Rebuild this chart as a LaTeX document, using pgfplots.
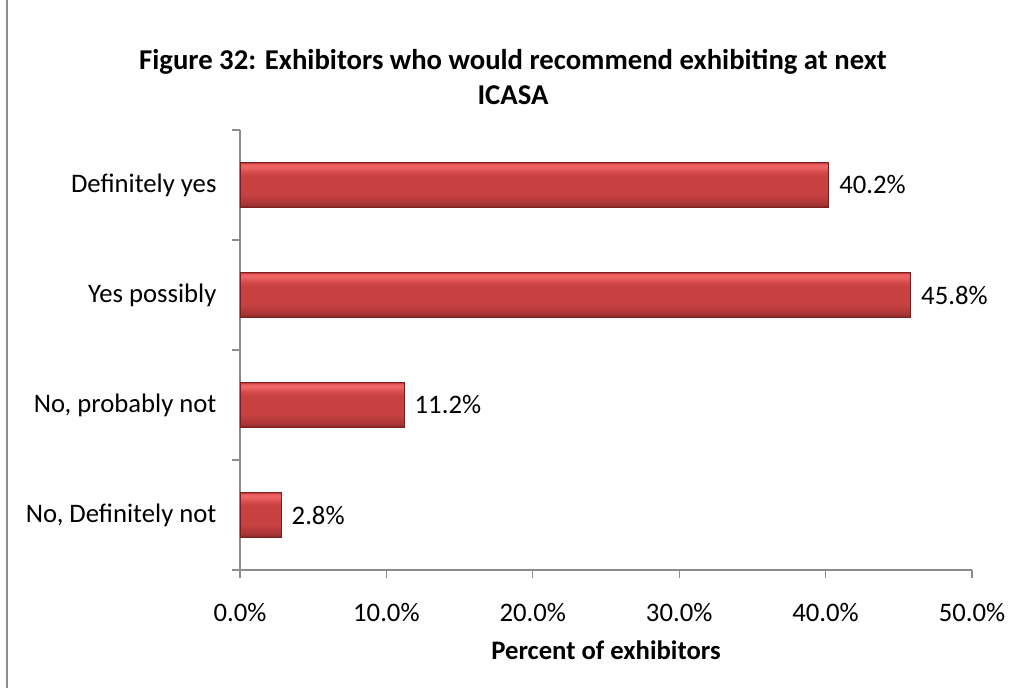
\documentclass[border=0pt]{standalone}
\usepackage{pgfplots}
\pgfplotsset{compat=1.18}
\usepackage{fontspec}
\setmainfont{Carlito}
\definecolor{axgray}{HTML}{8C8C8C}
\definecolor{baredge}{HTML}{7A1E1E}
\definecolor{sA}{HTML}{7E2424}
\definecolor{sB}{HTML}{A33434}
\definecolor{sC}{HTML}{B63A3A}
\definecolor{sD}{HTML}{C84141}
\definecolor{sE}{HTML}{D64A4A}
\definecolor{sF}{HTML}{EE6464}
\definecolor{sG}{HTML}{C43838}
\pgfdeclareverticalshading{barshade}{100bp}{color(0bp)=(sA); color(25bp)=(sA); color(28bp)=(sB); color(33bp)=(sC); color(40bp)=(sD); color(60bp)=(sD); color(65bp)=(sE); color(70bp)=(sF); color(73bp)=(sF); color(75bp)=(sG); color(100bp)=(sG)}
\begin{document}
\begin{tikzpicture}[x=1pt,y=1pt]
\useasboundingbox (0,0) rectangle (1021,688);
\draw[axgray,line width=2pt] (7,0) -- (7,688);
\node[font=\fontsize{28.7}{34}\selectfont\bfseries] at (513,626) {Figure 32: Exhibitors who would recommend exhibiting at next};
\node[font=\fontsize{28.7}{34}\selectfont\bfseries] at (513,593) {ICASA};
\pgfplotsset{barstyle/.style={draw=baredge, line width=0.8pt, shading=barshade}}
\begin{axis}[
  at={(240pt,118pt)}, anchor=south west,
  scale only axis, width=732pt, height=440pt,
  xmin=0, xmax=50, ymin=-0.5, ymax=3.5,
  y dir=reverse,
  xbar, bar width=0.405, bar shift=0pt,
  axis lines*=left,
  axis line style={axgray,line width=1.2pt},
  xtick={0,10,20,30,40,50},
  xticklabels={0.0\%,10.0\%,20.0\%,30.0\%,40.0\%,50.0\%},
  ytick={0,1,2,3},
  yticklabels={Definitely yes,Yes possibly,{No, probably not},{No, Definitely not}},
  minor ytick={-0.5,0.5,1.5,2.5,3.5},
  major tick length=0pt,
  minor tick length=8pt,
  extra x ticks={0,10,20,30,40,50},
  extra x tick labels={},
  extra x tick style={major tick length=8pt, tick style={axgray,line width=1.2pt}},
  tick align=outside,
  minor tick style={axgray,line width=1.2pt},
  tick label style={font=\fontsize{26.7}{32}\selectfont, text=black},
  yticklabel style={xshift=-20pt},
  xticklabel style={yshift=-30pt},
  xlabel={\textbf{Percent of exhibitors}},
  xlabel style={font=\fontsize{26.7}{32}\selectfont, yshift=-4pt},
  nodes near coords={\pgfmathprintnumber[fixed,fixed zerofill,precision=1,assume math mode=true]{\pgfplotspointmeta}\%},
  nodes near coords style={font=\fontsize{26.7}{32}\selectfont, black, anchor=west, xshift=7pt},
  point meta=explicit,
  clip=false,
]
\addplot[barstyle] coordinates {(40.2,0) [40.2]};
\addplot[barstyle] coordinates {(45.8,1) [45.8]};
\addplot[barstyle] coordinates {(11.2,2) [11.2]};
\addplot[barstyle] coordinates {(2.8,3) [2.8]};
\end{axis}
\end{tikzpicture}
\end{document}
